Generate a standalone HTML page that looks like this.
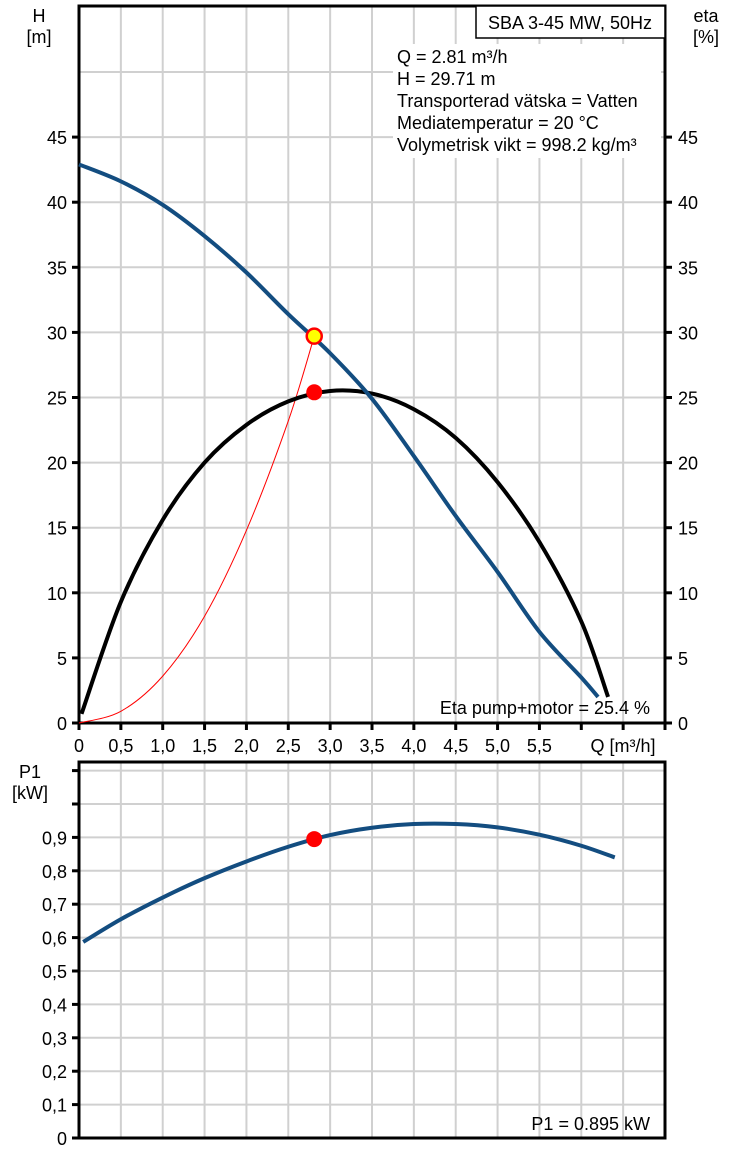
<!DOCTYPE html>
<html><head><meta charset="utf-8">
<style>
html,body{margin:0;padding:0;background:#fff;}
svg{display:block;font-family:"Liberation Sans",sans-serif;}
</style></head>
<body>
<svg id="chart" width="739" height="1152" viewBox="0 0 739 1152" xmlns="http://www.w3.org/2000/svg"></svg>
<script>
// ---- data ----
const headQ = [0, 0.5, 1.0, 1.5, 2.0, 2.5, 3.0, 3.5, 4.0, 4.5, 5.0, 5.5, 6.0, 6.2];
const headH = [42.9, 41.6, 39.8, 37.4, 34.6, 31.4, 28.4, 24.9, 20.5, 15.9, 11.6, 7.0, 3.5, 2.0];
const etaQ = [0.03, 0.5, 1.0, 1.5, 2.0, 2.5, 3.0, 3.5, 4.0, 4.5, 5.0, 5.5, 6.0, 6.32];
const etaV = [0.7, 9.3, 15.6, 20.0, 22.9, 24.7, 25.5, 25.3, 24.1, 21.9, 18.5, 13.9, 7.8, 2.0];
const sysQ = [0, 0.5, 1.0, 1.5, 2.0, 2.5, 2.81];
const sysH = [0, 0.9, 3.6, 8.2, 14.8, 23.2, 29.7];
const p1Q = [0.05, 0.5, 1.0, 1.5, 2.0, 2.5, 3.0, 3.5, 4.0, 4.5, 5.0, 5.5, 6.0, 6.4];
const p1V = [0.587, 0.655, 0.72, 0.778, 0.828, 0.872, 0.907, 0.929, 0.940, 0.940, 0.930, 0.908, 0.875, 0.840];
const dutyQ = 2.81, dutyH = 29.71, dutyEta = 25.4, dutyP1 = 0.895;
const xTickLabels = ["0","0,5","1,0","1,5","2,0","2,5","3,0","3,5","4,0","4,5","5,0","5,5"];
const hTickLabels = ["0","5","10","15","20","25","30","35","40","45"];
const pTickLabels = ["0","0,1","0,2","0,3","0,4","0,5","0,6","0,7","0,8","0,9"];

// ---- axes ----
const X0 = 79, X1 = 665, QMAX = 7;
const xs = q => X0 + q * (X1 - X0) / QMAX;
const TOP0 = 723, TOPY = 6;
const yH = h => TOP0 - h * 13.02;
const BOT0 = 1138, BOTY = 762;
const yP = p => BOT0 - p * 334;

const svg = document.getElementById('chart');
const NS = 'http://www.w3.org/2000/svg';
function mk(tag, attrs, parent) {
  const e = document.createElementNS(NS, tag);
  for (const k in attrs) e.setAttribute(k, attrs[k]);
  (parent || svg).appendChild(e);
  return e;
}
function txt(x, y, s, anchor, size, name) {
  const t = mk('text', {x: x, y: y, 'font-size': size || 18, 'text-anchor': anchor || 'start', fill: '#000'});
  t.textContent = s;
  
  
  return t;
}
function smooth(pts) {
  let d = 'M' + pts[0][0] + ' ' + pts[0][1];
  for (let i = 0; i < pts.length - 1; i++) {
    const p0 = pts[i - 1] || pts[i], p1 = pts[i], p2 = pts[i + 1], p3 = pts[i + 2] || p2;
    const c1x = p1[0] + (p2[0] - p0[0]) / 6, c1y = p1[1] + (p2[1] - p0[1]) / 6;
    const c2x = p2[0] - (p3[0] - p1[0]) / 6, c2y = p2[1] - (p3[1] - p1[1]) / 6;
    d += ' C' + c1x + ' ' + c1y + ' ' + c2x + ' ' + c2y + ' ' + p2[0] + ' ' + p2[1];
  }
  return d;
}

// ---- grids ----
const grid = mk('g', {stroke: '#d0d0d0', 'stroke-width': 2});


for (let i = 1; i < 14; i++) {
  const x = xs(i * 0.5);
  mk('line', {x1: x, y1: TOPY, x2: x, y2: TOP0}, grid);
  mk('line', {x1: x, y1: BOTY, x2: x, y2: BOT0}, grid);
}
for (let i = 1; i <= 10; i++) mk('line', {x1: X0, y1: yH(i * 5), x2: X1, y2: yH(i * 5)}, grid);
for (let i = 1; i <= 11; i++) mk('line', {x1: X0, y1: yP(i * 0.1), x2: X1, y2: yP(i * 0.1)}, grid);

const infoBg = mk('rect', {x: 393, y: 44, width: 268, height: 114, fill: '#fff'});



// ---- frames ----
const f1 = mk('rect', {x: X0, y: TOPY, width: X1 - X0, height: TOP0 - TOPY, fill: 'none', stroke: '#000', 'stroke-width': 3});


const f2 = mk('rect', {x: X0, y: BOTY, width: X1 - X0, height: BOT0 - BOTY, fill: 'none', stroke: '#000', 'stroke-width': 3});



// ---- ticks ----
const ticks = mk('g', {stroke: '#000', 'stroke-width': 3});


for (let i = 0; i <= 14; i++) mk('line', {x1: xs(i * 0.5), y1: TOP0, x2: xs(i * 0.5), y2: TOP0 + 7}, ticks);
for (let i = 0; i <= 9; i++) {
  mk('line', {x1: X0 - 7, y1: yH(i * 5), x2: X0, y2: yH(i * 5)}, ticks);
  mk('line', {x1: X1, y1: yH(i * 5), x2: X1 + 7, y2: yH(i * 5)}, ticks);
}
for (let i = 0; i <= 11; i++) mk('line', {x1: X0 - 7, y1: yP(i * 0.1), x2: X0, y2: yP(i * 0.1)}, ticks);

xTickLabels.forEach((s, i) => txt(xs(i * 0.5), 752, s, 'middle', 18, 'x-tick-label'));
txt(623, 752, 'Q [m³/h]', 'middle', 18, 'x-axis-title');
hTickLabels.forEach((s, i) => {
  txt(67, yH(i * 5) + 7, s, 'end', 18, 'h-tick-label');
  txt(678, yH(i * 5) + 7, s, 'start', 18, 'eta-tick-label');
});
pTickLabels.forEach((s, i) => txt(67, yP(i * 0.1) + 7, s, 'end', 18, 'p1-tick-label'));

txt(39, 22, 'H', 'middle', 18, 'h-axis-title');
txt(39, 43, '[m]', 'middle', 18, 'h-axis-unit');
txt(706, 22, 'eta', 'middle', 18, 'eta-axis-title');
txt(706, 43, '[%]', 'middle', 18, 'eta-axis-unit');
txt(30, 778, 'P1', 'middle', 18, 'p1-axis-title');
txt(30, 799, '[kW]', 'middle', 18, 'p1-axis-unit');

const lb = mk('rect', {x: 476, y: 6, width: 189, height: 32, fill: '#fff', stroke: '#000', 'stroke-width': 1.5});


txt(570, 29, 'SBA 3-45 MW, 50Hz', 'middle', 18, 'pump-title');
const info = ['Q = 2.81 m³/h', 'H = 29.71 m', 'Transporterad vätska = Vatten', 'Mediatemperatur = 20 °C', 'Volymetrisk vikt = 998.2 kg/m³'];
info.forEach((s, i) => txt(397, 63 + i * 22, s, 'start', 18, 'info-line'));
txt(650, 714, 'Eta pump+motor = 25.4 %', 'end', 18, 'eta-readout');
txt(650, 1130, 'P1 = 0.895 kW', 'end', 18, 'p1-readout');

// ---- series ----
const sys = mk('path', {d: smooth(sysQ.map((q, i) => [xs(q), yH(sysH[i])])), fill: 'none', stroke: '#ff0000', 'stroke-width': 1});


const eta = mk('path', {d: smooth(etaQ.map((q, i) => [xs(q), yH(etaV[i])])), fill: 'none', stroke: '#000', 'stroke-width': 4});


const head = mk('path', {d: smooth(headQ.map((q, i) => [xs(q), yH(headH[i])])), fill: 'none', stroke: '#134d80', 'stroke-width': 4});


const p1 = mk('path', {d: smooth(p1Q.map((q, i) => [xs(q), yP(p1V[i])])), fill: 'none', stroke: '#134d80', 'stroke-width': 4});



const dEta = mk('circle', {cx: xs(dutyQ), cy: yH(dutyEta), r: 8, fill: '#ff0000'});


const dH = mk('circle', {cx: xs(dutyQ), cy: yH(dutyH), r: 7.5, fill: '#ffff00', stroke: '#ff0000', 'stroke-width': 2.5});


const dP = mk('circle', {cx: xs(dutyQ), cy: yP(dutyP1), r: 8, fill: '#ff0000'});


</script>
</body></html>
